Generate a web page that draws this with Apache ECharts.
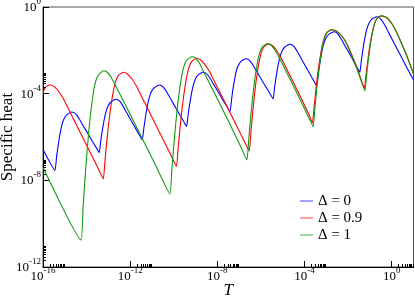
<!DOCTYPE html>
<html><head><meta charset="utf-8">
<script src="https://cdn.jsdelivr.net/npm/echarts/dist/echarts.min.js"></script>
<style>html,body{margin:0;padding:0;background:#fff}#c{width:415px;height:298px}</style>
</head><body><div id="c"></div>
<script>
// Values, given as powers of ten (log10 T, log10 C)
const seriesNames = ['Δ = 0', 'Δ = 0.9', 'Δ = 1'];
const xTickExponents = [-16, -12, -8, -4, 0];
const yTickExponents = [-12, -8, -4, 0];

const blueLogT = [-16,-15.45,-15.38,-15.31,-15.24,-15.15,-15.04,-14.90,-14.68,-14.58,-14.47,-14.32,-14.12,-13.91,-13.71,-13.55,-13.42,-13.35,-13.28,-13.21,-13.12,-13.01,-12.87,-12.65,-12.55,-12.45,-12.31,-12.11,-11.92,-11.72,-11.57,-11.445,-11.37,-11.30,-11.23,-11.14,-11.03,-10.88,-10.66,-10.56,-10.46,-10.30,-10.10,-9.90,-9.69,-9.54,-9.41,-9.34,-9.27,-9.20,-9.11,-9.00,-8.87,-8.65,-8.55,-8.45,-8.30,-8.10,-7.90,-7.70,-7.55,-7.42,-7.35,-7.29,-7.22,-7.14,-7.03,-6.90,-6.69,-6.59,-6.49,-6.33,-6.13,-5.93,-5.72,-5.57,-5.44,-5.37,-5.30,-5.23,-5.14,-5.03,-4.89,-4.67,-4.57,-4.47,-4.32,-4.12,-3.92,-3.72,-3.57,-3.445,-3.37,-3.30,-3.23,-3.14,-3.02,-2.88,-2.65,-2.55,-2.46,-2.31,-2.12,-1.92,-1.73,-1.59,-1.46,-1.39,-1.32,-1.25,-1.16,-1.05,-0.91,-0.69,-0.59,-0.49,-0.34,-0.14,0.06,0.26,0.46,0.66,0.86,1.0];
const blueLogC = [-6.58,-7.545,-6.943,-6.43,-5.982,-5.523,-5.172,-4.966,-4.845,-4.875,-4.965,-5.194,-5.543,-5.893,-6.242,-6.501,-6.72,-6.171,-5.704,-5.296,-4.877,-4.558,-4.371,-4.26,-4.29,-4.38,-4.61,-4.96,-5.31,-5.66,-5.92,-6.14,-5.574,-5.091,-4.669,-4.238,-3.907,-3.714,-3.60,-3.631,-3.723,-3.957,-4.314,-4.673,-5.03,-5.295,-5.52,-4.96,-4.483,-4.067,-3.64,-3.314,-3.123,-3.01,-3.04,-3.126,-3.349,-3.687,-4.027,-4.366,-4.617,-4.83,-4.285,-3.821,-3.415,-2.999,-2.682,-2.496,-2.386,-2.416,-2.505,-2.732,-3.078,-3.425,-3.771,-4.028,-4.245,-3.682,-3.202,-2.783,-2.354,-2.026,-1.834,-1.72,-1.751,-1.843,-2.078,-2.436,-2.796,-3.154,-3.42,-3.645,-3.086,-2.61,-2.195,-1.769,-1.443,-1.253,-1.14,-1.17,-1.26,-1.488,-1.836,-2.185,-2.533,-2.791,-3.01,-2.439,-1.952,-1.527,-1.091,-0.758,-0.563,-0.448,-0.478,-0.57,-0.80,-1.186,-1.572,-1.958,-2.344,-2.73,-3.11,-3.36];

const redLogT = [-16,-15.908,-15.817,-15.679,-15.495,-15.312,-15.083,-14.761,-14.303,-13.844,-13.523,-13.234,-13.151,-13.069,-12.986,-12.904,-12.821,-12.739,-12.656,-12.537,-12.317,-12.147,-11.963,-11.734,-11.413,-10.954,-10.495,-10.174,-9.876,-9.793,-9.709,-9.626,-9.543,-9.459,-9.376,-9.292,-9.172,-8.95,-8.78,-8.596,-8.367,-8.046,-7.587,-7.128,-6.826,-6.537,-6.457,-6.378,-6.299,-6.22,-6.14,-6.061,-5.982,-5.868,-5.656,-5.495,-5.312,-5.083,-4.761,-4.394,-4.028,-3.798,-3.638,-3.558,-3.479,-3.40,-3.321,-3.241,-3.162,-3.083,-2.968,-2.757,-2.528,-2.298,-2.069,-1.839,-1.61,-1.413,-1.252,-1.181,-1.11,-1.039,-0.968,-0.897,-0.826,-0.755,-0.653,-0.463,-0.234,-0.005,0.225,0.454,0.683,1.0];
const redLogC = [-3.955,-3.738,-3.646,-3.60,-3.669,-3.853,-4.199,-4.845,-5.768,-6.691,-7.337,-7.937,-7.037,-6.165,-5.376,-4.707,-4.155,-3.719,-3.396,-3.152,-3.013,-3.083,-3.267,-3.613,-4.259,-5.182,-6.105,-6.751,-7.351,-6.437,-5.556,-4.758,-4.084,-3.521,-3.078,-2.755,-2.506,-2.367,-2.437,-2.621,-2.967,-3.613,-4.536,-5.459,-6.068,-6.645,-5.741,-4.868,-4.079,-3.406,-2.852,-2.413,-2.09,-1.846,-1.707,-1.767,-1.961,-2.33,-2.976,-3.715,-4.476,-4.961,-5.353,-4.569,-3.807,-3.12,-2.538,-2.058,-1.675,-1.398,-1.181,-1.061,-1.131,-1.315,-1.675,-2.192,-2.755,-3.323,-3.761,-3.147,-2.557,-2.021,-1.574,-1.191,-0.895,-0.678,-0.508,-0.415,-0.498,-0.761,-1.177,-1.684,-2.215,-3.08];

const greenLogT = [-16,-14.257,-14.165,-14.073,-13.982,-13.89,-13.798,-13.706,-13.615,-13.477,-13.234,-13.064,-12.881,-12.619,-12.239,-11.55,-10.862,-10.174,-10.085,-9.995,-9.905,-9.817,-9.726,-9.638,-9.547,-9.417,-9.179,-9.009,-8.826,-8.596,-8.216,-7.528,-6.963,-6.642,-6.558,-6.475,-6.391,-6.307,-6.223,-6.139,-6.055,-5.934,-5.711,-5.541,-5.358,-5.128,-4.761,-4.394,-4.028,-3.798,-3.601,-3.526,-3.45,-3.376,-3.30,-3.225,-3.15,-3.075,-2.966,-2.766,-2.537,-2.307,-2.078,-1.849,-1.619,-1.413,-1.229,-1.161,-1.092,-1.023,-0.954,-0.885,-0.817,-0.748,-0.647,-0.463,-0.234,-0.005,0.225,0.454,0.683,1.0];
const greenLogC = [-7.397,-10.752,-9.322,-7.937,-6.691,-5.63,-4.753,-4.061,-3.553,-3.161,-2.94,-3.0,-3.23,-3.738,-4.476,-5.861,-7.245,-8.63,-7.471,-6.35,-5.335,-4.472,-3.766,-3.198,-2.787,-2.469,-2.294,-2.353,-2.584,-3.046,-3.807,-5.192,-6.368,-7.06,-6.077,-5.127,-4.264,-3.535,-2.93,-2.455,-2.104,-1.837,-1.684,-1.754,-1.984,-2.40,-3.138,-3.876,-4.638,-5.122,-5.524,-4.702,-3.909,-3.193,-2.58,-2.077,-1.68,-1.389,-1.163,-1.038,-1.108,-1.315,-1.684,-2.215,-2.792,-3.369,-3.876,-3.24,-2.621,-2.063,-1.592,-1.20,-0.891,-0.665,-0.489,-0.392,-0.475,-0.738,-1.154,-1.684,-2.238,-3.092];

const lineColors = ['#0000ff', '#ff0000', '#109a10'];
const legendColors = ['#8080ff', '#ff8080', '#80c880'];

const FONT = '"Liberation Serif", "DejaVu Serif", serif';
const XMIN = 1e-16, XMAX = 10, YMIN = 1e-12, YMAX = 1;

function toData(lt, lc) { return lt.map((t, i) => [Math.pow(10, t), Math.pow(10, lc[i])]); }

const minorX = [], minorY = [];
xTickExponents.forEach(e => { for (let k = 2; k <= 9; k++) { const v = k * Math.pow(10, e); if (v < XMAX) minorX.push([v, YMIN]); } });
yTickExponents.forEach(e => { for (let k = 2; k <= 9; k++) { const v = k * Math.pow(10, e); if (v < YMAX) minorY.push([XMIN, v]); } });

function powLabel(v) {
  const e = Math.round(Math.log10(v));
  if (e % 4 !== 0) return '';
  return '{b|10}{s|' + e + '}';
}
const richLab = {
  b: { fontFamily: FONT, fontSize: 13, color: '#000', lineHeight: 14, verticalAlign: 'bottom' },
  s: { fontFamily: FONT, fontSize: 9, color: '#000', lineHeight: 9, padding: [0, 0, 8, 0], verticalAlign: 'bottom' }
};

const chart = echarts.init(document.getElementById('c'), null, { renderer: 'canvas' });
chart.setOption({
  animation: false,
  backgroundColor: '#fff',
  grid: { left: 43, top: 7, right: 1.5, bottom: 31, show: true, borderColor: '#555', borderWidth: 1, backgroundColor: 'transparent', containLabel: false, outerBoundsMode: 'none' },
  xAxis: {
    type: 'log', logBase: 10, min: XMIN, max: XMAX, interval: 4,
    axisLine: { lineStyle: { color: '#000', width: 1 } },
    axisTick: { inside: true, length: 6, lineStyle: { color: '#000' } },
    axisLabel: { margin: 2, formatter: powLabel, rich: richLab, showMaxLabel: false },
    splitLine: { show: false },
    name: 'T', nameLocation: 'middle', nameGap: 15, nameMoveOverlap: false,
    nameTextStyle: { fontFamily: FONT, fontStyle: 'italic', fontSize: 17, color: '#000' }
  },
  yAxis: {
    type: 'log', logBase: 10, min: YMIN, max: YMAX, interval: 4,
    axisLine: { lineStyle: { color: '#000', width: 1 } },
    axisTick: { inside: true, length: 6, lineStyle: { color: '#000' } },
    axisLabel: { margin: 2, formatter: powLabel, rich: richLab },
    splitLine: { show: false },
    name: 'Specific heat', nameLocation: 'middle', nameGap: 27, nameRotate: 90, nameMoveOverlap: false,
    nameTextStyle: { fontFamily: FONT, fontSize: 17, color: '#000' }
  },
  legend: {
    data: seriesNames.map((n, i) => ({ name: n, itemStyle: { color: legendColors[i] } })),
    orient: 'vertical', left: 300, top: 193, padding: 0,
    itemWidth: 13, itemHeight: 1.5, itemGap: 1, icon: 'rect',
    textStyle: { fontFamily: FONT, fontSize: 15, color: '#000', lineHeight: 16 }
  },
  series: [
    { name: seriesNames[0], type: 'line', data: toData(blueLogT, blueLogC), showSymbol: false, smooth: 0.12, color: lineColors[0], lineStyle: { width: 1.1, color: lineColors[0] } },
    { name: seriesNames[1], type: 'line', data: toData(redLogT, redLogC), showSymbol: false, smooth: 0.12, color: lineColors[1], lineStyle: { width: 1.1, color: lineColors[1] } },
    { name: seriesNames[2], type: 'line', data: toData(greenLogT, greenLogC), showSymbol: false, smooth: 0.12, color: lineColors[2], lineStyle: { width: 1.1, color: lineColors[2] } },
    { type: 'custom', silent: true, clip: false, z: 5, data: minorX,
      renderItem: (p, api) => { const c = api.coord([api.value(0), api.value(1)]); const x = Math.round(c[0]) + 0.5;
        return { type: 'line', shape: { x1: x, y1: c[1], x2: x, y2: c[1] - 3 }, style: { stroke: '#000', lineWidth: 1 } }; } },
    { type: 'custom', silent: true, clip: false, z: 5, data: minorY,
      renderItem: (p, api) => { const c = api.coord([api.value(0), api.value(1)]); const y = Math.round(c[1]) + 0.5;
        return { type: 'line', shape: { x1: c[0], y1: y, x2: c[0] + 3, y2: y }, style: { stroke: '#000', lineWidth: 1 } }; } }
  ]
});
</script></body></html>
